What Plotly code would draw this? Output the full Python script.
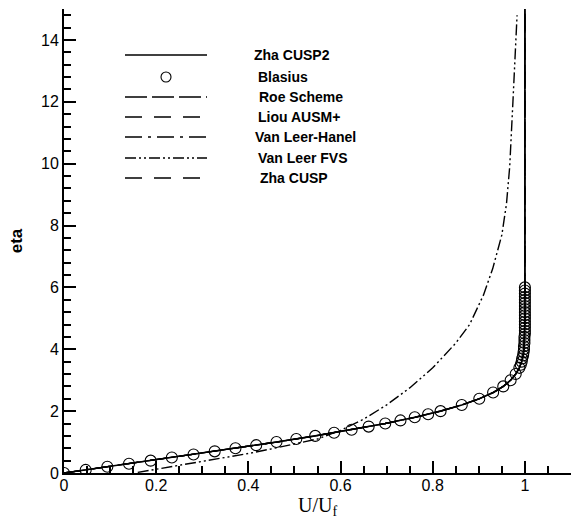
import plotly.graph_objects as go

# ---------------- data ----------------
# Blasius similarity solution (circles)
blasius_eta = [0.0, 0.1, 0.2, 0.3, 0.4, 0.5, 0.6, 0.7, 0.8, 0.9, 1.0, 1.1, 1.2, 1.3, 1.4,
               1.5, 1.6, 1.7, 1.8, 1.9, 2.0, 2.2, 2.4, 2.6, 2.8, 3.0, 3.2, 3.4, 3.5, 3.6,
               3.7, 3.8, 3.9, 4.0, 4.1, 4.2, 4.3, 4.4, 4.5, 4.6, 4.7, 4.8, 4.9, 5.0, 5.1,
               5.2, 5.3, 5.4, 5.5, 5.6, 5.7, 5.8, 5.9, 6.0]
blasius_u = [0.0, 0.047, 0.094, 0.141, 0.188, 0.234, 0.281, 0.327, 0.372, 0.417, 0.461,
             0.504, 0.545, 0.586, 0.624, 0.661, 0.697, 0.730, 0.761, 0.790, 0.817, 0.863,
             0.901, 0.931, 0.953, 0.969, 0.980, 0.988, 0.991, 0.993, 0.994, 0.996, 0.997,
             0.998, 0.998, 0.999, 0.999, 0.999, 1.0, 1.0, 1.0, 1.0, 1.0, 1.0, 1.0, 1.0,
             1.0, 1.0, 1.0, 1.0, 1.0, 1.0, 1.0, 1.0]

# Schemes that collapse onto the Blasius profile
scheme_eta = [0.0, 0.2, 0.4, 0.6, 0.8, 1.0, 1.2, 1.4, 1.6, 1.8, 2.0, 2.2, 2.4, 2.6, 2.8,
              3.0, 3.2, 3.4, 3.6, 3.8, 4.0, 4.4, 5.0, 6.0, 8.0, 10.0, 12.0, 15.0]
scheme_u = [0.0, 0.094, 0.188, 0.281, 0.372, 0.461, 0.545, 0.624, 0.697, 0.761, 0.817,
            0.863, 0.901, 0.931, 0.953, 0.969, 0.980, 0.988, 0.993, 0.996, 0.998, 0.999,
            1.0, 1.0, 1.0, 1.0, 1.0, 1.0]

# Van Leer FVS (diffusive profile)
fvs_u = [0.16, 0.20, 0.25, 0.30, 0.35, 0.40, 0.45, 0.50, 0.55, 0.60, 0.65, 0.70, 0.75,
         0.80, 0.85, 0.88, 0.91, 0.93, 0.95, 0.96, 0.967, 0.974, 0.980, 0.983]
fvs_eta = [0.02, 0.12, 0.24, 0.36, 0.50, 0.63, 0.78, 0.93, 1.10, 1.38, 1.74, 2.20, 2.75,
           3.40, 4.20, 4.80, 5.75, 6.60, 7.70, 8.70, 9.90, 12.0, 13.8, 14.8]

x_ticks = [0, 0.2, 0.4, 0.6, 0.8, 1.0]
x_tick_labels = ["0", "0.2", "0.4", "0.6", "0.8", "1"]
y_ticks = [0, 2, 4, 6, 8, 10, 12, 14]
y_tick_labels = ["0", "2", "4", "6", "8", "10", "12", "14"]

legend_names = ["Zha CUSP2", "Blasius", "Roe Scheme", "Liou AUSM+", "Van Leer-Hanel",
                "Van Leer FVS", "Zha CUSP"]

# ---------------- styles ----------------
BLACK = "black"
DASH_ROE = "22px,5px"
DASH_LIOU = "17px,12px"
DASH_HANEL = "17px,6px,3px,6px"
DASH_FVS = "11px,3px,2px,3px,2px,3px"
DASH_CUSP = "17px,12px"

fig = go.Figure()

fig.add_trace(go.Scatter(x=scheme_u, y=scheme_eta, mode="lines", name="Roe Scheme",
                         line=dict(color=BLACK, width=1.3, dash=DASH_ROE)))
fig.add_trace(go.Scatter(x=scheme_u, y=scheme_eta, mode="lines", name="Liou AUSM+",
                         line=dict(color=BLACK, width=1.3, dash=DASH_LIOU)))
fig.add_trace(go.Scatter(x=scheme_u, y=scheme_eta, mode="lines", name="Van Leer-Hanel",
                         line=dict(color=BLACK, width=1.3, dash=DASH_HANEL)))
fig.add_trace(go.Scatter(x=scheme_u, y=scheme_eta, mode="lines", name="Zha CUSP",
                         line=dict(color=BLACK, width=1.3, dash=DASH_CUSP)))
fig.add_trace(go.Scatter(x=fvs_u, y=fvs_eta, mode="lines", name="Van Leer FVS",
                         line=dict(color=BLACK, width=1.4, dash=DASH_FVS)))
fig.add_trace(go.Scatter(x=scheme_u, y=scheme_eta, mode="lines", name="Zha CUSP2",
                         line=dict(color=BLACK, width=1.6)))
fig.add_trace(go.Scatter(x=blasius_u, y=blasius_eta, mode="markers", name="Blasius",
                         marker=dict(symbol="circle-open", size=11, color=BLACK,
                                     line=dict(width=1.1, color=BLACK))))

# ---------------- manual legend ----------------
W, H = 571, 523
ML, MR, MT, MB = 64, 0, 9, 50
PW, PH = W - ML - MR, H - MT - MB

def px_x(p):
    return (p - ML) / PW

def px_y(p):
    return (H - MB - p) / PH

legend_rows = [
    ("Zha CUSP2", "solid", 55, 252),
    ("Blasius", None, 77, 256),
    ("Roe Scheme", DASH_ROE, 97, 257),
    ("Liou AUSM+", DASH_LIOU, 117, 256),
    ("Van Leer-Hanel", DASH_HANEL, 137, 253),
    ("Van Leer FVS", DASH_FVS, 158, 256),
    ("Zha CUSP", DASH_CUSP, 178, 258),
]
shapes = []
annotations = []
for name, dash, ypix, xtext in legend_rows:
    if dash is None:
        shapes.append(dict(type="circle", xref="paper", yref="paper",
                           xsizemode="pixel", ysizemode="pixel",
                           xanchor=px_x(166), yanchor=px_y(ypix),
                           x0=-5, x1=5, y0=-5, y1=5,
                           line=dict(color=BLACK, width=1.1)))
    else:
        shapes.append(dict(type="line", xref="paper", yref="paper",
                           x0=px_x(125), x1=px_x(207), y0=px_y(ypix), y1=px_y(ypix),
                           line=dict(color=BLACK, width=1.3, dash=dash)))
    annotations.append(dict(text="<b>%s</b>" % name, xref="paper", yref="paper",
                            x=px_x(xtext), y=px_y(ypix), xanchor="left", yanchor="middle",
                            showarrow=False,
                            font=dict(family="Liberation Sans, Arial", size=14, color=BLACK)))

fig.update_layout(
    width=W, height=H,
    margin=dict(l=ML, r=MR, t=MT, b=MB),
    paper_bgcolor="white", plot_bgcolor="white",
    showlegend=False,
    shapes=shapes, annotations=annotations,
    font=dict(family="Liberation Sans, Arial", size=16, color=BLACK),
)
fig.update_xaxes(
    range=[0, 1.1], tickvals=x_ticks, ticktext=x_tick_labels,
    showgrid=False, zeroline=False, showline=True, linecolor=BLACK, linewidth=2,
    ticks="inside", ticklen=12, tickwidth=2, tickcolor=BLACK,
    minor=dict(dtick=0.05, tick0=0, ticks="inside", ticklen=7, tickwidth=1.5,
               tickcolor=BLACK, showgrid=False),
    tickfont=dict(family="Liberation Sans, Arial", size=16, color=BLACK),
    ticklabelstandoff=-3,
    title=dict(text="U/U<sub>f</sub>", standoff=4,
               font=dict(family="Liberation Serif, Times New Roman", size=20, color=BLACK)),
    automargin=False,
)
fig.update_yaxes(
    range=[0, 15], tickvals=y_ticks, ticktext=y_tick_labels,
    showgrid=False, zeroline=False, showline=True, linecolor=BLACK, linewidth=2,
    ticks="inside", ticklen=12, tickwidth=2, tickcolor=BLACK,
    minor=dict(dtick=0.4, tick0=0, ticks="inside", ticklen=7, tickwidth=1.5,
               tickcolor=BLACK, showgrid=False),
    tickfont=dict(family="Liberation Sans, Arial", size=16, color=BLACK),
    title=dict(text="<b>eta</b>", standoff=14,
               font=dict(family="Liberation Sans, Arial", size=17, color=BLACK)),
    automargin=False,
)

fig.write_html("out.html")
